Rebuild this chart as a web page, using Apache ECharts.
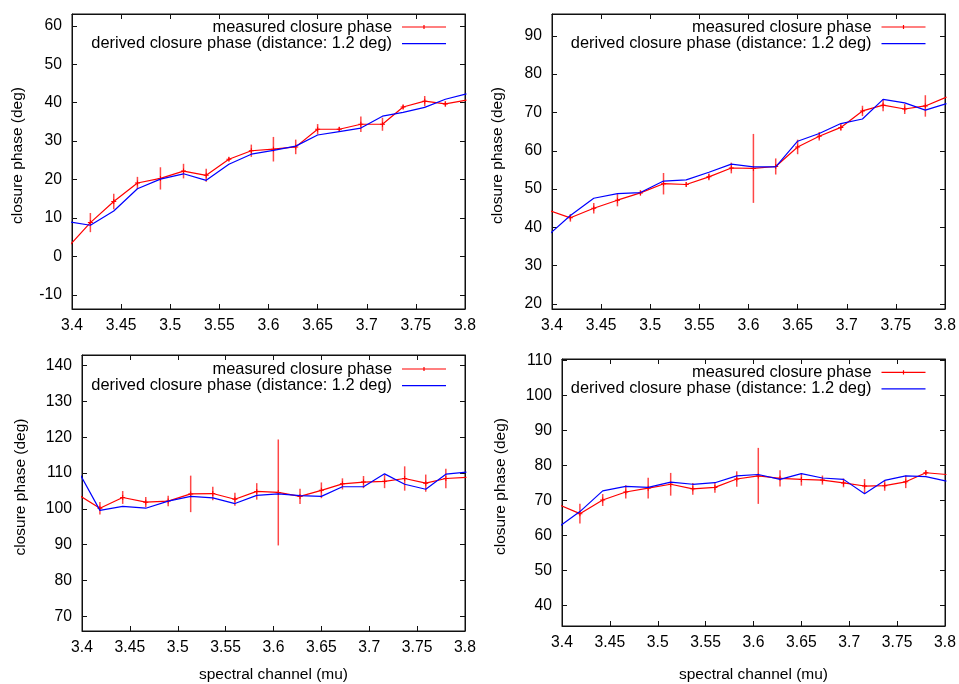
<!DOCTYPE html>
<html>
<head>
<meta charset="utf-8">
<script src="https://cdn.jsdelivr.net/npm/echarts@6/dist/echarts.min.js"></script>
<style>
html,body{margin:0;padding:0;background:#fff;}
#chart{width:959px;height:684px;}
</style>
</head>
<body>
<div id="chart"></div>
<script>
// ---- data ----
const wavelengths = [3.3946, 3.4187, 3.4425, 3.4666, 3.4900, 3.5135, 3.5366, 3.5597, 3.5825, 3.6050, 3.6277, 3.6500, 3.6720, 3.6940, 3.7160, 3.7370, 3.7590, 3.7800, 3.8015];
const xTickLabels = ['3.4','3.45','3.5','3.55','3.6','3.65','3.7','3.75','3.8'];

const measured1 = [2.0, 8.8, 14.3, 19.1, 20.3, 22.2, 21.1, 25.3, 27.5, 27.9, 28.5, 33.1, 33.1, 34.4, 34.4, 38.9, 40.4, 39.7, 40.7];
const error1    = [0, 2.5, 2.0, 1.6, 2.9, 1.9, 1.7, 0.5, 1.6, 3.2, 1.9, 1.35, 0.6, 2.0, 1.7, 0.6, 1.35, 0.7, 0];
const derived1  = [9.1, 8.1, 11.8, 17.6, 20.1, 21.5, 19.8, 24.0, 26.6, 27.6, 28.7, 31.6, 32.5, 33.4, 36.5, 37.5, 38.8, 40.9, 42.3];

const measured2 = [44.6, 42.5, 45.0, 47.1, 49.0, 51.4, 51.2, 53.2, 55.5, 55.4, 55.9, 61.0, 63.8, 66.1, 70.4, 71.9, 70.9, 71.7, 74.0];
const error2    = [0, 1.0, 1.4, 1.6, 0.65, 2.8, 0.6, 0.9, 1.4, 9.0, 2.1, 1.9, 1.1, 0.9, 1.35, 1.6, 1.3, 2.8, 0];
const derived2  = [37.6, 43.1, 47.6, 48.8, 49.1, 52.1, 52.4, 54.4, 56.5, 55.8, 55.8, 62.5, 64.5, 67.1, 68.3, 73.4, 72.5, 70.6, 72.3];

const measured3 = [104.2, 100.2, 103.2, 101.9, 102.2, 104.2, 104.3, 102.7, 104.9, 104.6, 103.5, 105.2, 107.0, 107.5, 107.7, 108.5, 107.2, 108.5, 108.8];
const error3    = [0, 1.75, 1.8, 1.4, 1.45, 5.1, 1.9, 1.8, 2.3, 14.8, 2.15, 2.2, 1.55, 1.7, 1.9, 3.4, 2.4, 2.7, 0];
const derived3  = [111.3, 99.6, 100.7, 100.2, 102.2, 103.5, 103.1, 101.5, 103.8, 104.2, 103.7, 103.5, 106.2, 106.2, 109.8, 106.9, 105.5, 109.7, 110.3];

const measured4 = [69.0, 66.2, 70.1, 72.4, 73.5, 74.6, 73.3, 73.7, 76.1, 77.0, 76.3, 76.0, 75.8, 75.0, 74.1, 74.2, 75.3, 77.9, 77.4];
const error4    = [0, 2.8, 1.7, 1.9, 3.0, 3.25, 1.7, 1.55, 2.2, 8.0, 2.3, 1.8, 1.3, 1.25, 2.0, 1.45, 1.8, 0.7, 0];
const derived4  = [62.0, 66.8, 72.7, 74.0, 73.7, 75.2, 74.6, 75.05, 77.0, 77.4, 76.0, 77.65, 76.4, 76.0, 71.9, 75.7, 77.0, 76.8, 75.5];

const yRanges = [[-13.7, 63.1], [18.7, 95.7], [65.9, 143.0], [34.1, 110.4]];

const nameMeasured = 'measured closure phase';
const nameDerived = 'derived closure phase (distance: 1.2 deg)';
const xAxisName = 'spectral channel (mu)';
const yAxisName = 'closure phase (deg)';

// ---- layout / style ----
const FONT = '"Liberation Sans", Arial, Helvetica, sans-serif';
const panels = [
  {m: measured1, e: error1, d: derived1, grid: {left: 72, top: 14, width: 393, height: 295}, yGap: 46, xName: false, xPad: 0, legend: {right: 513, top: 19}},
  {m: measured2, e: error2, d: derived2, grid: {left: 552, top: 14, width: 393, height: 295}, yGap: 46, xName: false, xPad: 0, legend: {right: 33.5, top: 19}},
  {m: measured3, e: error3, d: derived3, grid: {left: 82, top: 355, width: 383, height: 276}, yGap: 53, xName: true, xGap: 36, xPad: 0, legend: {right: 513, top: 361}},
  {m: measured4, e: error4, d: derived4, grid: {left: 562, top: 359, width: 383, height: 274}, yGap: 53, xName: true, xGap: 36, xPad: 5, legend: {right: 33.5, top: 364.3}}
];

const RED = '#ff0000', BLUE = '#0000ff', AX = '#111';
const grids = [], xAxes = [], yAxes = [], series = [], legends = [];

const isTen = v => Math.abs(v / 10 - Math.round(v / 10)) < 1e-6;
const fmtX = v => {
  const s = (Math.round(v * 100) / 100).toString();
  return xTickLabels.indexOf(s) >= 0 ? s : '';
};

panels.forEach((p, i) => {
  grids.push(Object.assign({show: true, borderColor: AX, borderWidth: 1, backgroundColor: 'transparent'}, p.grid));
  const xBase = {
    gridIndex: i, type: 'value', min: 3.4, max: 3.8, interval: 0.05,
    axisLine: {show: true, onZero: false, lineStyle: {color: AX, width: 1}},
    axisTick: {show: true, inside: true, length: 5, lineStyle: {color: AX, width: 1}},
    splitLine: {show: false}
  };
  xAxes.push(Object.assign({}, xBase, {
    position: 'bottom',
    axisLabel: {show: true, color: '#000', fontSize: 15.7, fontFamily: FONT, margin: 9, formatter: fmtX},
    name: p.xName ? xAxisName : '', nameLocation: 'middle', nameGap: p.xGap || 30,
    nameTextStyle: {color: '#000', fontSize: 15.5, fontFamily: FONT, padding: [p.xPad, 0, 0, 0]}
  }));
  xAxes.push(Object.assign({}, xBase, {position: 'top', axisLabel: {show: false}}));

  const yBase = {
    gridIndex: i, type: 'value', min: yRanges[i][0], max: yRanges[i][1], splitNumber: 8,
    axisLine: {show: true, onZero: false, lineStyle: {color: AX, width: 1}},
    axisTick: {show: true, inside: true, length: 5, lineStyle: {color: AX, width: 1}},
    splitLine: {show: false}
  };
  yAxes.push(Object.assign({}, yBase, {
    position: 'left',
    axisLabel: {show: true, color: '#000', fontSize: 15.7, fontFamily: FONT, margin: 10,
      formatter: v => isTen(v) ? String(Math.round(v)) : ''},
    name: yAxisName, nameLocation: 'middle', nameGap: p.yGap,
    nameTextStyle: {color: '#000', fontSize: 15.5, fontFamily: FONT, padding: [0, 0, 0, 12]}
  }));
  yAxes.push(Object.assign({}, yBase, {position: 'right', axisLabel: {show: false}}));

  const mData = wavelengths.map((x, k) => [x, p.m[k]]);
  const dData = wavelengths.map((x, k) => [x, p.d[k]]);
  const eData = wavelengths.map((x, k) => [x, p.m[k], p.e[k]]).filter(r => r[2] > 0);

  series.push({
    type: 'custom', name: 'measured error ' + i, coordinateSystem: 'cartesian2d',
    xAxisIndex: 2 * i, yAxisIndex: 2 * i, clip: true, silent: true, z: 2,
    encode: {x: 0, y: 1},
    data: eData,
    renderItem: (params, api) => {
      const x = api.value(0), y = api.value(1), e = api.value(2);
      const a = api.coord([x, y - e]), b = api.coord([x, y + e]);
      return {type: 'line', shape: {x1: a[0], y1: a[1], x2: b[0], y2: b[1]},
        style: {stroke: 'rgba(255,0,0,0.72)', lineWidth: 1.5}};
    }
  });
  series.push({
    type: 'line', name: nameMeasured, xAxisIndex: 2 * i, yAxisIndex: 2 * i,
    data: mData, clip: true, z: 3,
    symbol: 'path://M0,2H5V3H0Z M2,0H3V5H2Z', symbolSize: 5, showSymbol: true,
    itemStyle: {color: RED, borderWidth: 0}, lineStyle: {color: RED, width: 1.2}
  });
  series.push({
    type: 'line', name: nameDerived, xAxisIndex: 2 * i, yAxisIndex: 2 * i,
    data: dData, clip: true, z: 4, symbol: 'none',
    itemStyle: {color: BLUE, borderWidth: 0}, lineStyle: {color: BLUE, width: 1.2}
  });

  legends.push({
    orient: 'vertical', align: 'right', right: p.legend.right, top: p.legend.top,
    padding: 0, itemGap: 0.6, itemWidth: 44, itemHeight: 14, symbolKeepAspect: true,
    selectedMode: false,
    itemStyle: {borderWidth: 0},
    textStyle: {color: '#000', fontSize: 16.4, fontFamily: FONT, padding: [0, 5, 0, 0]},
    data: [
      {name: nameMeasured, icon: 'path://M0,3H44V4.2H0Z M21.4,1.5H22.6V5.7H21.4Z',
        itemStyle: {color: RED, borderWidth: 0, borderColor: RED}},
      {name: nameDerived, icon: 'path://M0,0H44V1.2H0Z',
        itemStyle: {color: BLUE, borderWidth: 0, borderColor: BLUE}}
    ]
  });
});

const chart = echarts.init(document.getElementById('chart'), null, {renderer: 'canvas'});
chart.setOption({
  backgroundColor: '#fff',
  animation: false,
  textStyle: {fontFamily: FONT},
  grid: grids,
  xAxis: xAxes,
  yAxis: yAxes,
  legend: legends,
  series: series
});
</script>
</body>
</html>
